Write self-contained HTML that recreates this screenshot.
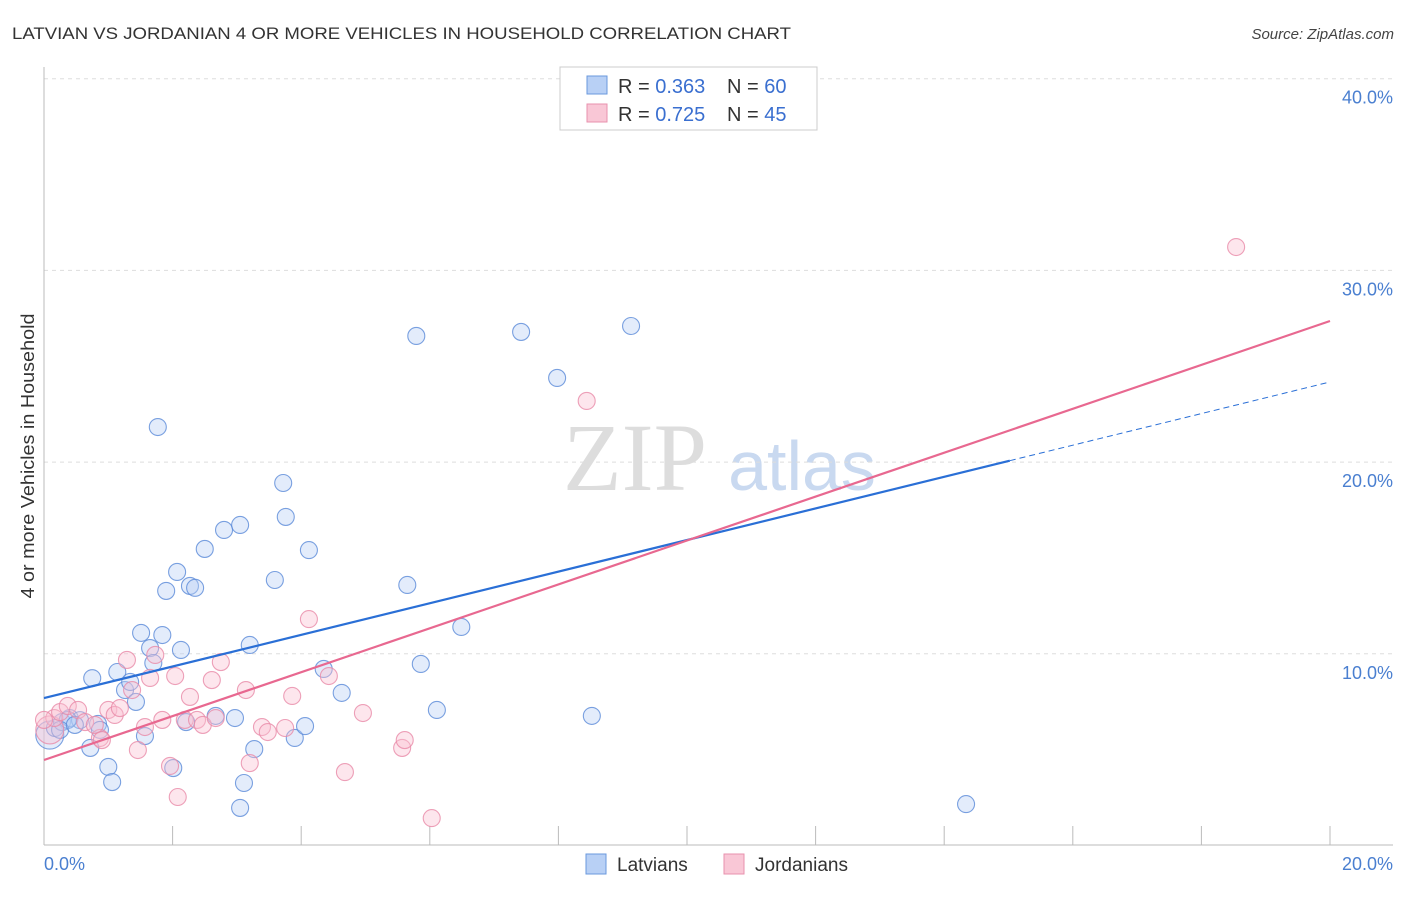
<!DOCTYPE html>
<html><head><meta charset="utf-8"><style>
body{margin:0;background:#fff;font-family:"Liberation Sans",sans-serif}
</style></head><body>
<svg id="chart" width="1406" height="892" xmlns="http://www.w3.org/2000/svg" font-family="Liberation Sans, sans-serif">
<text x="12" y="39" font-size="17" fill="#333" textLength="779" lengthAdjust="spacingAndGlyphs">LATVIAN VS JORDANIAN 4 OR MORE VEHICLES IN HOUSEHOLD CORRELATION CHART</text>
<text x="1394" y="39" font-size="15" fill="#444" font-style="italic" text-anchor="end">Source: ZipAtlas.com</text>
<g>
<text x="635" y="490" font-size="96" font-family="Liberation Serif, serif" fill="#ddd" text-anchor="middle">ZIP</text>
<text x="802" y="490" font-size="70" fill="#c9d9f0" text-anchor="middle">atlas</text>
</g>
<g id="grid"></g>
<g id="axes"></g>
<g id="marks"></g>
<text transform="translate(34,456) rotate(-90)" font-size="18" fill="#333" text-anchor="middle" textLength="285" lengthAdjust="spacingAndGlyphs">4 or more Vehicles in Household</text>
<g>
<rect x="560" y="67" width="257" height="63" fill="#fff" stroke="#ccc"/>
<rect x="587" y="76" width="20" height="18" fill="#b8d0f5" stroke="#6a98dd"/>
<rect x="587" y="104" width="20" height="18" fill="#f9c7d6" stroke="#e892ae"/>
<text x="618" y="93" font-size="20" fill="#333">R = <tspan fill="#3a6fd0">0.363</tspan></text>
<text x="727" y="93" font-size="20" fill="#333">N = <tspan fill="#3a6fd0">60</tspan></text>
<text x="618" y="121" font-size="20" fill="#333">R = <tspan fill="#3a6fd0">0.725</tspan></text>
<text x="727" y="121" font-size="20" fill="#333">N = <tspan fill="#3a6fd0">45</tspan></text>
</g>
<g>
<rect x="586" y="854" width="20" height="20" fill="#b8d0f5" stroke="#6a98dd"/>
<text x="617" y="871" font-size="19" fill="#333">Latvians</text>
<rect x="724" y="854" width="20" height="20" fill="#f9c7d6" stroke="#e892ae"/>
<text x="755" y="871" font-size="19" fill="#333">Jordanians</text>
</g>
</svg>
<script>
const yTicks=[10,20,30,40];
const yTickLabels=["10.0%","20.0%","30.0%","40.0%"];
const xTicks=[2,4,6,8,10,12,14,16,18,20];
const latX=[0.09,0.17,0.28,0.40,0.56,0.75,0.84,0.72,1.00,1.06,1.14,1.26,1.34,1.43,1.51,1.57,1.65,1.70,1.77,1.84,1.90,2.01,2.07,2.13,2.21,2.27,2.35,2.50,2.67,2.80,2.97,3.05,3.05,3.11,3.20,3.27,3.59,3.72,3.76,3.90,4.06,4.12,4.35,4.63,5.65,5.79,5.86,6.11,6.49,7.42,7.98,8.52,9.13,14.34,0.37,0.87,0.25,0.48];
const latY=[5.76,6.13,6.44,6.65,6.54,8.73,6.34,5.09,4.10,3.31,9.05,8.11,8.53,7.49,11.09,5.71,10.30,9.52,21.83,10.98,13.28,4.04,14.27,10.20,6.44,13.54,13.44,15.47,6.76,16.46,6.65,16.72,1.96,3.26,10.46,5.03,13.85,18.91,17.14,5.61,6.23,15.41,9.21,7.96,13.59,26.58,9.47,7.07,11.40,26.79,24.39,6.76,27.10,2.16,6.55,6.03,6.03,6.29];
const jorX=[0.09,0.16,0.25,0.37,0.53,0.64,0.87,1.00,1.10,1.18,1.29,1.37,1.46,1.57,1.65,1.73,1.84,1.96,2.04,2.08,2.19,2.27,2.38,2.47,2.61,2.67,2.75,3.14,3.20,3.39,3.48,3.75,3.86,4.12,4.43,4.68,4.96,5.57,5.61,6.03,8.44,18.54,0.0,0.79,0.90];
const jorY=[6.03,6.65,6.96,7.28,7.07,6.44,5.61,7.07,6.81,7.17,9.68,8.11,4.98,6.18,8.74,9.94,6.55,4.15,8.84,2.53,6.55,7.75,6.55,6.29,8.63,6.65,9.57,8.11,4.30,6.18,5.92,6.13,7.80,11.81,8.84,3.83,6.91,5.09,5.50,1.43,23.19,31.22,6.55,6.29,5.50];
const latTrend=[7.69,24.18]; const latSolidEnd=15.02;
const jorTrend=[4.46,27.36];
const NS="http://www.w3.org/2000/svg";
const sx=v=>44+v/20*1286, sy=v=>845.5-v*19.17;
function mk(p,tag,at){const e=document.createElementNS(NS,tag);for(const k in at)e.setAttribute(k,at[k]);p.appendChild(e);return e;}
const grid=document.getElementById('grid'),axes=document.getElementById('axes'),marks=document.getElementById('marks');
yTicks.forEach((t,i)=>{
 const l=mk(grid,'line',{x1:44,x2:1393,y1:sy(t),y2:sy(t),stroke:'#ddd','stroke-dasharray':'4,4'});
 
 
 const tx=mk(axes,'text',{x:1393,y:sy(t)+25,'font-size':18,fill:'#4a7fd0','text-anchor':'end'});
 tx.textContent=yTickLabels[i];
 
 
});
let a=mk(axes,'line',{x1:44,x2:44,y1:67,y2:845,stroke:'#bbb'});

a=mk(axes,'line',{x1:44,x2:1393,y1:845,y2:845,stroke:'#bbb'});

xTicks.forEach(t=>{const l=mk(axes,'line',{x1:sx(t),x2:sx(t),y1:826,y2:845,stroke:'#bbb'});
 
 });
let t0=mk(axes,'text',{x:44,y:870,'font-size':18,fill:'#4a7fd0'});t0.textContent='0.0%';

let t1=mk(axes,'text',{x:1393,y:870,'font-size':18,fill:'#4a7fd0','text-anchor':'end'});t1.textContent='20.0%';

function pts(X,Y,fill,stroke,name){X.forEach((x,i)=>{const c=mk(marks,'circle',{cx:sx(x),cy:sy(Y[i]),r:i==0?14:8.5,fill:fill,'fill-opacity':0.4,stroke:stroke,'stroke-opacity':0.8,'stroke-width':1.1});
 
 });}
pts(latX,latY,'#b8d0f5','#5a8ad8','latvian-point');
pts(jorX,jorY,'#f9c0d2','#e88aa8','jordanian-point');
const lt=v=>latTrend[0]+(latTrend[1]-latTrend[0])*v/20;
let l1=mk(marks,'line',{x1:sx(0),y1:sy(latTrend[0]),x2:sx(latSolidEnd),y2:sy(lt(latSolidEnd)),stroke:'#2a6fd6','stroke-width':2.2});

let l2=mk(marks,'line',{x1:sx(latSolidEnd),y1:sy(lt(latSolidEnd)),x2:sx(20),y2:sy(latTrend[1]),stroke:'#2a6fd6','stroke-width':1,'stroke-dasharray':'6,4'});

let l3=mk(marks,'line',{x1:sx(0),y1:sy(jorTrend[0]),x2:sx(20),y2:sy(jorTrend[1]),stroke:'#e86890','stroke-width':2.2});

</script>
</body></html>
